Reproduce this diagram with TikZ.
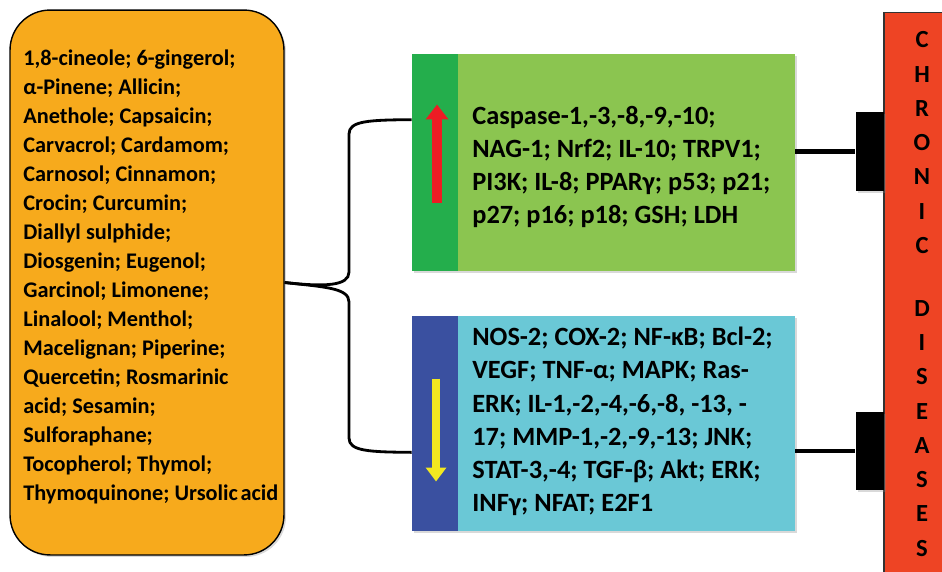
\documentclass[tikz,border=0pt]{standalone}
\usepackage{fontspec}
\setmainfont{Carlito}
\usetikzlibrary{arrows.meta,shadows}
\definecolor{herbor}{RGB}{247,170,28}
\definecolor{upgreen}{RGB}{139,197,80}
\definecolor{updark}{RGB}{36,174,76}
\definecolor{downblue}{RGB}{106,200,214}
\definecolor{downdark}{RGB}{58,80,160}
\definecolor{chronred}{RGB}{238,68,36}
\definecolor{uparrow}{RGB}{237,28,36}
\definecolor{downarrow}{RGB}{242,232,32}
\tikzset{
    softshadow/.style={drop shadow={opacity=0.3,shadow xshift=0.04cm,shadow yshift=-0.04cm}},
    listbox/.style={inner sep=0pt,minimum width=7.66cm,softshadow},
    stripbox/.style={inner sep=0pt,anchor=north west,minimum width=0.92cm},
    listtext/.style={inner sep=0pt,anchor=west,align=left,font=\fontsize{15}{18.9}\selectfont\bfseries},
    blockbox/.style={fill=black,inner sep=0pt,anchor=east,minimum width=0.56cm,minimum height=1.58cm,softshadow},
    bracket/.style={line width=1.6pt},
    tieline/.style={line width=2.8pt}
}
\begin{document}
\begin{tikzpicture}[x=0.02cm,y=-0.02cm]
    \useasboundingbox (0,0) rectangle (942,571);
    \clip (0,0) rectangle (942,571);
    % left list of compounds
    \node[draw=black,line width=0.8pt,fill=herbor,rounded corners=0.8cm,
        minimum width=5.48cm,minimum height=10.9cm,softshadow] (herbs) at (147,282.5) {};
    \node[inner sep=0pt,anchor=west,align=left,font=\fontsize{12.7}{16.5}\selectfont\bfseries]
        (herblist) at (23,276.5) {1,8-cineole; 6-gingerol;\\
        α-Pinene; Allicin;\\
        Anethole; Capsaicin;\\
        Carvacrol; Cardamom;\\
        Carnosol; Cinnamon;\\
        Crocin; Curcumin;\\
        Diallyl sulphide;\\
        Diosgenin; Eugenol;\\
        Garcinol; Limonene;\\
        Linalool; Menthol;\\
        Macelignan; Piperine;\\
        Quercetin; Rosmarinic\\
        acid; Sesamin;\\
        Sulforaphane;\\
        Tocopherol; Thymol;\\
        Thymoquinone; Ursolic\hspace{0.12em}acid};
    % up regulated
    \node[listbox,fill=upgreen,minimum height=4.34cm] (upbox) at (603.5,162.5) {};
    \node[stripbox,fill=updark,minimum height=4.34cm] (upstrip) at (upbox.north west) {};
    \draw[uparrow,line width=0.2cm,-{Triangle[width=0.44cm,length=0.3cm]}]
        ([shift={(2,40)}]upstrip.center) -- ([shift={(2,-58)}]upstrip.center);
    \node[listtext] (uplist) at (472,167) {Caspase-1,-3,-8,-9,-10;\\
        NAG-1; Nrf2; IL-10; TRPV1;\\
        PI3K; IL-8; PPARγ; p53; p21;\\
        p27; p16; p18; GSH; LDH};
    % down regulated
    \node[listbox,fill=downblue,minimum height=4.3cm] (downbox) at (603.5,423.5) {};
    \node[stripbox,fill=downdark,minimum height=4.3cm] (downstrip) at (downbox.north west) {};
    \draw[downarrow,line width=0.16cm,-{Triangle[width=0.4cm,length=0.28cm]}]
        ([shift={(1,-45)}]downstrip.center) -- ([shift={(1,58)}]downstrip.center);
    \node[listtext] (downlist) at (472,421.5) {NOS-2; COX-2; NF-κB; Bcl-2;\\
        VEGF; TNF-α; MAPK; Ras-\\
        ERK; IL-1,-2,-4,-6,-8, -13, -\\
        17; MMP-1,-2,-9,-13; JNK;\\
        STAT-3,-4; TGF-β; Akt; ERK;\\
        INFγ; NFAT; E2F1};
    % chronic diseases
    \node[fill=chronred,draw=black!80,line width=0.6pt,minimum width=1.52cm,minimum height=11.28cm,
        inner sep=0pt,align=center,font=\fontsize{14}{19.5}\selectfont\bfseries]
        (chronic) at (922,294) {C\\H\\R\\O\\N\\I\\C\\[0.57cm]D\\I\\S\\E\\A\\S\\E\\S};
    \node[blockbox] (upblock) at (884,151.5) {};
    \node[blockbox] (downblock) at (884,451) {};
    \draw[tieline] (upblock.west -| upbox.east) -- (upblock.west);
    \draw[tieline] (downblock.west -| downbox.east) -- (downblock.west);
    % brace
    \draw[bracket] (herbs.east) .. controls (325,287) and (349,286) .. (349,272)
        -- (349,134) .. controls (349,121) and (368,120) .. ([yshift=-1.32cm]upstrip.north west);
    \draw[bracket] (herbs.east) .. controls (325,287) and (349,288) .. (349,302)
        -- (349,438) .. controls (349,451) and (368,452) .. ([yshift=1.58cm]downstrip.south west);
\end{tikzpicture}
\end{document}
